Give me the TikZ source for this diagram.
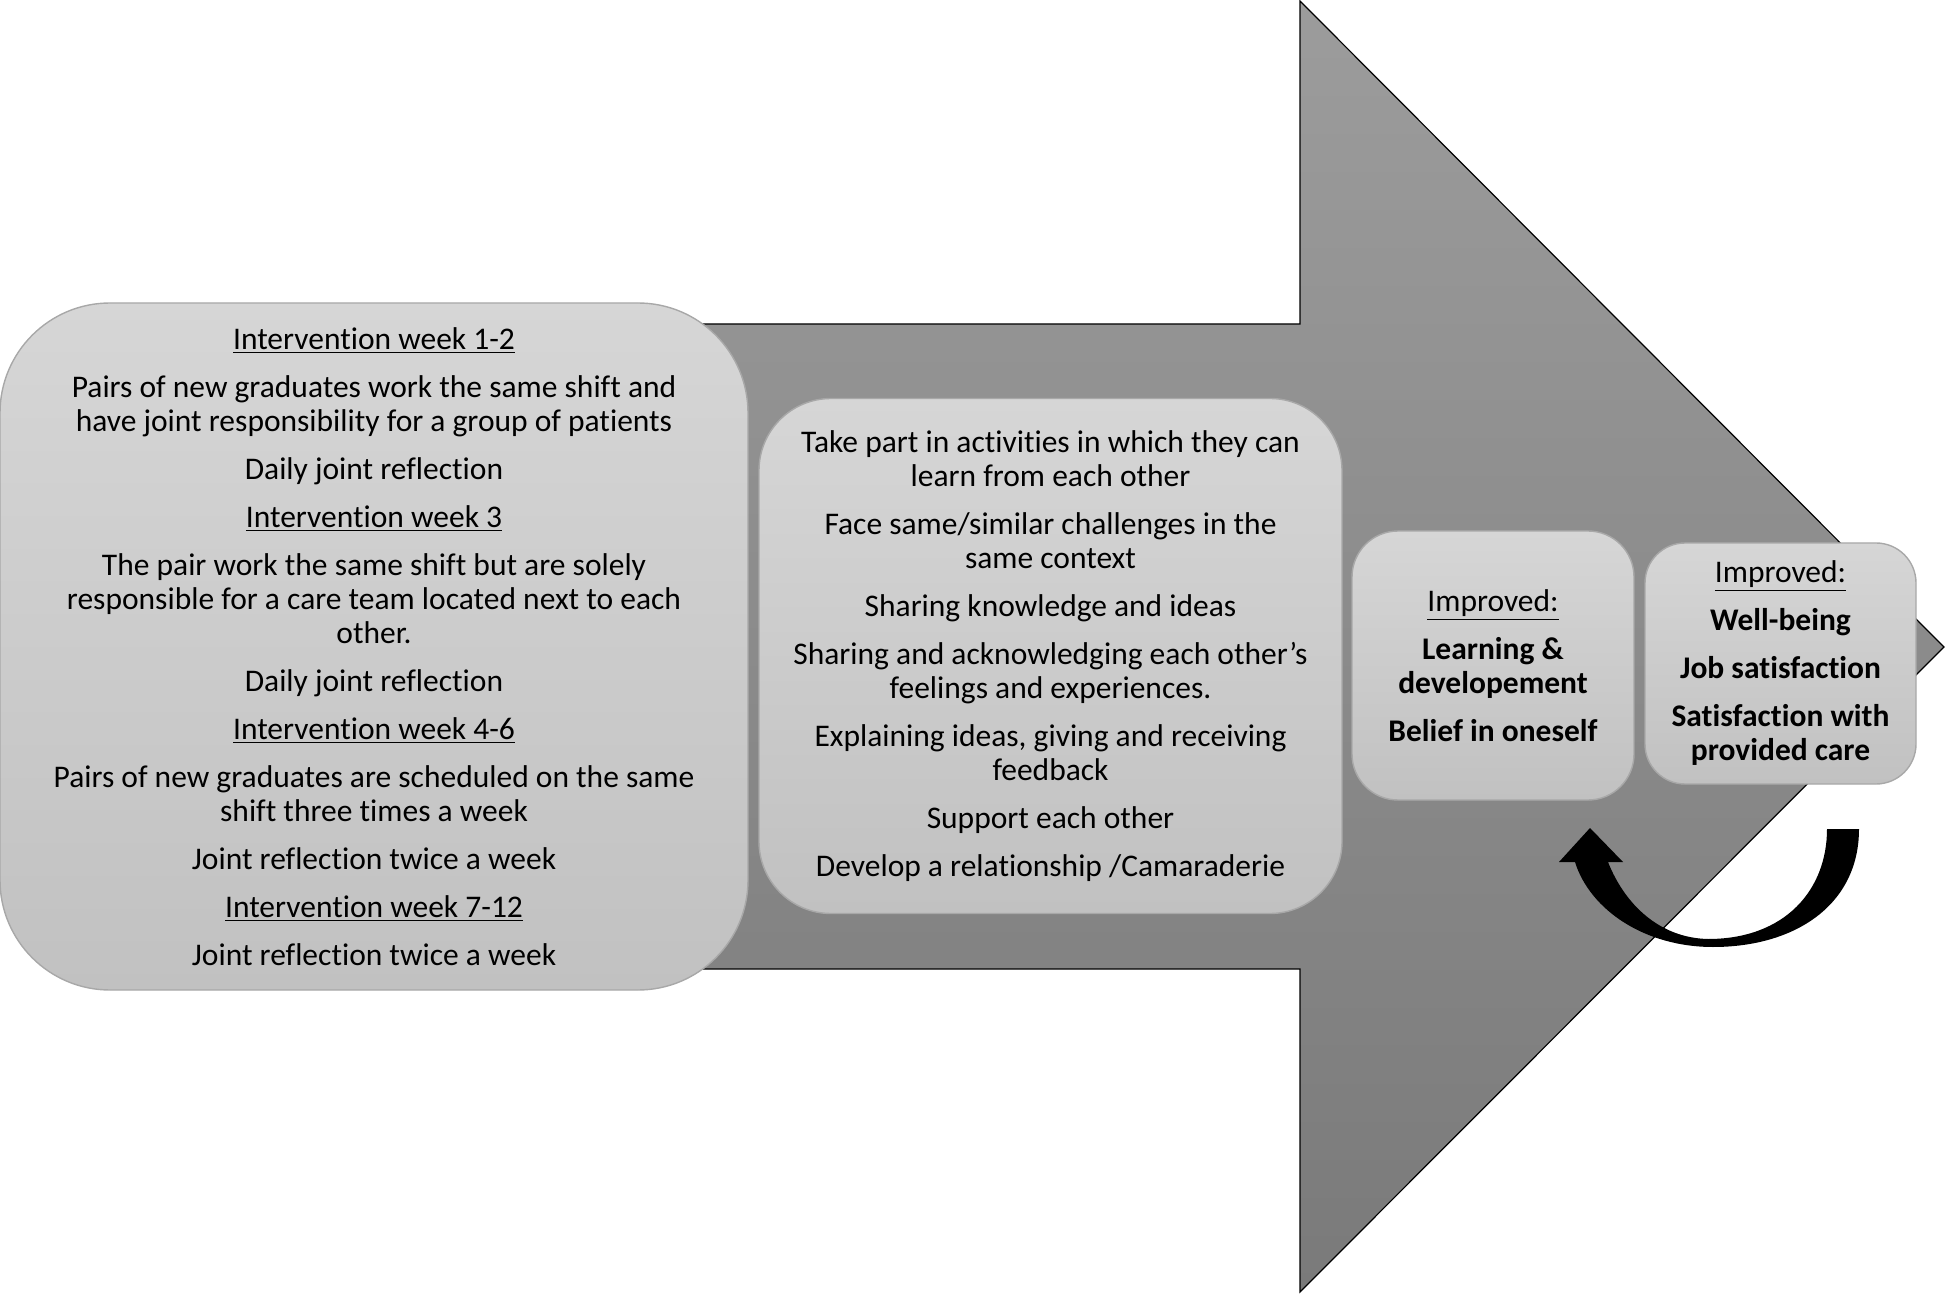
\documentclass[tikz,border=0pt]{standalone}
\usepackage{fontspec}
\setmainfont[Ligatures={TeX,NoCommon}]{Carlito}
\usetikzlibrary{arrows.meta,calc,positioning}
\definecolor{arrow-top}{HTML}{9C9C9C}
\definecolor{arrow-bot}{HTML}{7A7A7A}
\definecolor{panel-top}{HTML}{D6D6D6}
\definecolor{panel-bot}{HTML}{C1C1C1}
\definecolor{panel-rim}{HTML}{A8A8A8}

\begin{document}
\begin{tikzpicture}[x=0.5pt,y=-0.5pt,
  panel/.style={draw=panel-rim,line width=0.7pt,top color=panel-top,bottom color=panel-bot,
    inner sep=0pt,align=center,font=\fontsize{15.75}{17}\selectfont}]
  \useasboundingbox (0,0) rectangle (1945,1294);

  % Stor pil
  \draw[line width=0.6pt,top color=arrow-top,bottom color=arrow-bot]
    (600,324) -- (1300,324) -- (1300,1) -- (1944,647) -- (1300,1292) -- (1300,969) -- (600,969) -- cycle;

  % Intervention
  \node[panel,minimum width=374pt,minimum height=343.5pt,rounded corners=55pt] (weeks) at (374,646.5)
    {\underline{Intervention week 1-2}\\[7pt]
     Pairs of new graduates work the same shift and\\
     have joint responsibility for a group of patients\\[7pt]
     Daily joint reflection\\[7pt]
     \underline{Intervention week 3}\\[7pt]
     The pair work the same shift but are solely\\
     responsible for a care team located next to each\\
     other.\\[7pt]
     Daily joint reflection\\[7pt]
     \underline{Intervention week 4-6}\\[7pt]
     Pairs of new graduates are scheduled on the same\\
     shift three times a week\\[7pt]
     Joint reflection twice a week\\[7pt]
     \underline{Intervention week 7-12}\\[7pt]
     Joint reflection twice a week};

  % Mekanismer
  \node[panel,minimum width=291.5pt,minimum height=257.5pt,rounded corners=36pt] (peers) at (1050.5,656)
    {Take part in activities in which they can\\
     learn from each other\\[7pt]
     Face same/similar challenges in the\\
     same context\\[7pt]
     Sharing knowledge and ideas\\[7pt]
     Sharing and acknowledging each other’s\\
     feelings and experiences.\\[7pt]
     Explaining ideas, giving and receiving\\
     feedback\\[7pt]
     Support each other\\[7pt]
     Develop a relationship /Camaraderie};

  % Udbytte
  \node[panel,minimum width=141pt,minimum height=134.5pt,rounded corners=23pt] (learn) at (1493,665.5)
    {\underline{Improved:}\\[7pt]
     \textbf{Learning \&}\\
     \textbf{developement}\\[7pt]
     \textbf{Belief in oneself}};
  \node[panel,minimum width=135.5pt,minimum height=120.5pt,rounded corners=20pt] (wellbeing) at (1780.5,663.5)
    {\underline{Improved:}\\[7pt]
     \textbf{Well-being}\\[7pt]
     \textbf{Job satisfaction}\\[7pt]
     \textbf{Satisfaction with}\\
     \textbf{provided care}};

  % Tilbagekobling
  \fill[black] (1859,829) .. controls (1859,905) and (1795,947) .. (1713,947)
    .. controls (1645,947) and (1590,910) .. (1575,862)
    -- (1559,862) -- (1590,828) -- (1623,862) -- (1608,862)
    .. controls (1625,905) and (1660,938) .. (1708,939)
    .. controls (1785,939) and (1827,890) .. (1827,829) -- cycle;
\end{tikzpicture}
\end{document}
